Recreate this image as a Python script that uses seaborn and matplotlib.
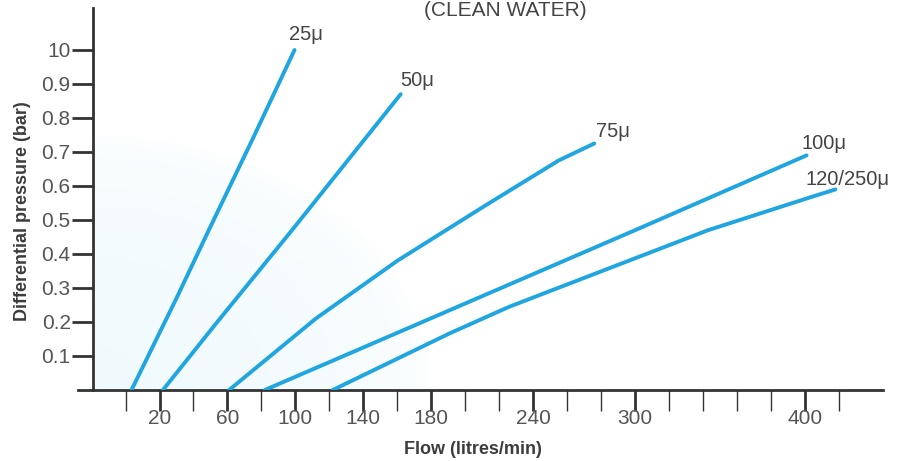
import numpy as np
import pandas as pd
import seaborn as sns
import matplotlib.pyplot as plt

# curve data: flow (litres/min) vs differential pressure (bar)
flow_25 = [3.5, 30, 49, 75, 99.5]
dp_25 = [0.0, 0.27, 0.47, 0.74, 1.0]
flow_50 = [22, 54, 98, 130, 162]
dp_50 = [0.0, 0.2, 0.47, 0.67, 0.87]
flow_75 = [61, 112, 160, 211, 255, 276]
dp_75 = [0.0, 0.21, 0.38, 0.54, 0.675, 0.725]
flow_100 = [82, 191, 300, 401]
dp_100 = [0.0, 0.235, 0.47, 0.69]
flow_120 = [122, 191, 226, 343, 404, 418]
dp_120 = [0.0, 0.167, 0.245, 0.47, 0.568, 0.59]

grades = ['25\u03bc', '50\u03bc', '75\u03bc', '100\u03bc', '120/250\u03bc']
label_x = [96.5, 161.5, 277, 398, 400.5]
label_y = [1.045, 0.909, 0.759, 0.726, 0.618]

x_major = [20, 60, 100, 140, 180, 240, 300, 400]
x_minor = list(range(0, 440, 20))
y_ticks = [0.1, 0.2, 0.3, 0.4, 0.5, 0.6, 0.7, 0.8, 0.9, 1.0]
y_labels = ['0.1', '0.2', '0.3', '0.4', '0.5', '0.6', '0.7', '0.8', '0.9', '10']

frames = []
for g, fx, fy in zip(grades, [flow_25, flow_50, flow_75, flow_100, flow_120],
                     [dp_25, dp_50, dp_75, dp_100, dp_120]):
    frames.append(pd.DataFrame({'flow': fx, 'dp': fy, 'grade': g}))
df = pd.concat(frames, ignore_index=True)

sns.set_style('white')
plt.rcParams['font.family'] = ['Liberation Sans', 'DejaVu Sans']

fig = plt.figure(figsize=(9.02, 4.61), dpi=100)
ax = fig.add_axes([78 / 902, 1 - 390 / 461, 805 / 902, 382 / 461])

blue = '#1fa5e0'
ink = '#333333'

# faint halftone-like shading in the lower left
gx, gy = np.meshgrid(np.linspace(0, 1, 200), np.linspace(0, 1, 200))
r = np.sqrt(gx ** 2 + gy ** 2)
alpha = np.clip(1.0 - r, 0, 1) ** 0.4 * 0.3
rgba = np.zeros((200, 200, 4))
rgba[..., 0], rgba[..., 1], rgba[..., 2] = 0.80, 0.93, 0.97
rgba[..., 3] = alpha
ax.imshow(rgba, extent=(-19.2, 180, 0, 0.75), origin='lower', aspect='auto',
          zorder=0, interpolation='bilinear')

sns.lineplot(data=df, x='flow', y='dp', units='grade', estimator=None,
             color=blue, linewidth=2.8, sort=False, ax=ax, zorder=3)

for g, tx, ty in zip(grades, label_x, label_y):
    ax.text(tx, ty, g, fontsize=14.5, color='#444444', va='center', ha='left')

ax.set_xlim(-28, 446)
ax.set_ylim(0, 1.1235)

ax.spines['top'].set_visible(False)
ax.spines['right'].set_visible(False)
ax.spines['left'].set_position(('data', -19.2))
ax.spines['left'].set_color(ink)
ax.spines['left'].set_linewidth(2)
ax.spines['bottom'].set_color(ink)
ax.spines['bottom'].set_linewidth(2)

ax.set_xticks(x_major)
ax.set_xticklabels([str(v) for v in x_major])
ax.set_xticks([v for v in x_minor if v not in x_major], minor=True)
ax.tick_params(axis='x', which='major', bottom=True, direction='out', length=15,
               width=2, color=ink, labelsize=15, labelcolor='#555555', pad=-1)
ax.tick_params(axis='x', which='minor', bottom=True, direction='out', length=15,
               width=1, color=ink)
ax.set_yticks(y_ticks)
ax.set_yticklabels(y_labels)
ax.tick_params(axis='y', which='major', left=True, direction='out', length=15,
               width=2, color=ink, labelsize=15, labelcolor='#555555', pad=1)

ax.set_xlabel('Flow (litres/min)', fontsize=13, fontweight='bold',
              color='#3c3c3c')
ax.set_ylabel('Differential pressure (bar)', fontsize=13, fontweight='bold',
              color='#3c3c3c')
ax.xaxis.set_label_coords(0.4907, -0.1335)
ax.yaxis.set_label_coords(-0.0584, 0.4686)

# title is partly cut off at the top edge in the original scan
fig.text(505 / 902, 1 - 15.5 / 461, '(CLEAN WATER)', fontsize=15,
         color='#444444', ha='center', va='baseline')

fig.savefig('out.png', dpi=100)
